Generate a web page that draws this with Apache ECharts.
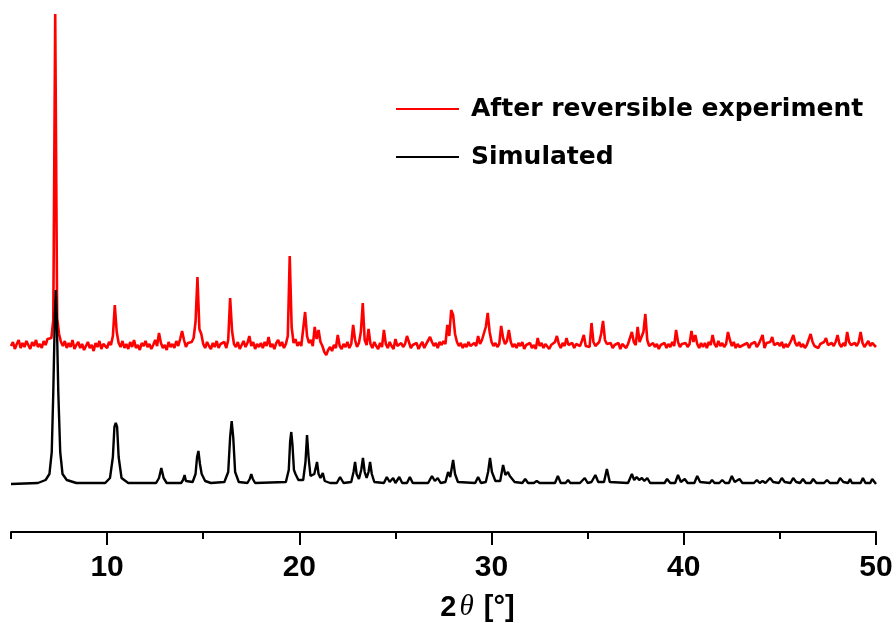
<!DOCTYPE html>
<html>
<head>
<meta charset="utf-8">
<script src="https://cdn.jsdelivr.net/npm/echarts@6/dist/echarts.min.js"></script>
<style>
html,body{margin:0;padding:0;background:#fff;}
#chart{width:896px;height:623px;}
</style>
</head>
<body>
<div id="chart"></div>
<script>
// ---- data ----
const seriesNames = ['After reversible experiment', 'Simulated'];
const majorTicks = [10, 20, 30, 40, 50];
const minorTicks = [5, 15, 25, 35, 45];
const angleStart = 5;      // 2theta of first experimental sample
const angleStep = 0.1;     // sampling step of the experimental scan

// experimental pattern (offset upward), one row per degree 5..49, then 50
const experimentIntensity = [
186,190,183,188,192,184,189,185,191,187,
183,190,186,192,185,188,184,191,187,193,
191,194,212,518,214,198,190,186,191,184,
189,185,192,183,187,190,184,188,182,186,
190,184,187,181,189,185,191,183,188,186,
184,190,187,196,227,200,189,185,191,184,
188,183,190,185,192,184,187,182,189,186,
191,185,188,183,187,192,186,199,189,184,
187,182,190,185,188,184,191,186,193,201,
192,185,189,187,190,194,210,255,203,198,
188,184,190,186,183,189,185,191,184,188,
186,190,184,192,234,201,188,185,190,183,
187,191,185,189,196,186,190,183,188,185,
189,184,190,186,195,185,188,183,189,192,
186,190,184,188,196,276,205,189,193,186,
190,186,203,220,196,189,192,186,205,193,
202,190,186,180,177,182,185,181,187,184,
197,186,183,188,185,190,184,188,207,192,
185,189,200,229,192,187,203,188,184,190,
186,183,189,185,202,188,184,190,186,183,
193,186,184,189,185,188,196,190,184,187,
185,189,183,187,190,184,188,186,195,190,
186,189,184,190,187,191,188,207,196,222,
217,198,190,186,189,184,188,185,190,186,
184,189,186,196,188,192,190,205,219,200,
190,186,189,185,188,206,194,188,191,202,
190,185,188,184,189,186,190,183,187,185,
189,184,187,183,194,186,189,184,188,186,
183,187,185,190,196,188,184,189,186,194,
187,185,189,184,188,190,186,191,197,186,
188,185,209,190,186,187,190,198,211,192,
188,186,189,184,187,185,189,183,188,186,
184,188,186,200,190,187,205,190,189,200,
218,192,186,184,189,185,188,183,187,186,
189,184,188,185,190,186,202,190,185,188,
186,189,185,188,201,190,197,188,184,189,
185,189,184,190,187,197,188,185,191,186,
189,185,188,200,192,186,190,184,188,185,
183,187,185,189,184,188,186,190,185,188,
186,197,184,189,188,190,195,187,185,189,
186,190,184,188,185,188,192,197,189,186,
190,185,188,184,187,189,198,190,186,188,
184,188,186,190,194,187,185,189,186,190,
197,188,185,189,186,200,190,187,185,189,
186,190,200,189,185,188,191,186,189,187,
185
];

// simulated pattern as [2theta, intensity] vertices
const simulatedPattern = [
[5,48],[6.4,49],[6.8,52],[7.0,58],[7.12,80],[7.2,140],[7.28,215],[7.33,242],[7.38,215],[7.46,140],[7.56,80],[7.68,58],[7.9,52],[8.4,49],
[9.9,49],[10.15,54],[10.3,75],[10.38,105],[10.45,109],[10.52,105],[10.6,75],[10.75,54],[11.1,49],
[12.55,49],[12.7,54],[12.82,64],[12.94,54],[13.1,49],
[13.85,49],[13.95,52],[14.03,57],[14.1,51],
[14.45,50],[14.6,58],[14.68,75],[14.75,81],[14.83,68],[14.92,58],[14.98,57],[15.1,51],[15.4,49],
[16.1,50],[16.3,60],[16.4,95],[16.48,111],[16.56,95],[16.66,60],[16.85,50],
[17.3,49],[17.42,53],[17.5,58],[17.58,53],[17.7,49],
[19.3,50],[19.45,62],[19.52,90],[19.58,100],[19.64,88],[19.72,62],[19.8,58],[19.87,59],[19.95,52],
[20.2,52],[20.32,70],[20.4,97],[20.48,75],[20.58,56],
[20.78,58],[20.92,70],[21.0,58],[21.1,54],[21.22,59],[21.32,51],[21.6,49],
[21.95,49],[22.12,55],[22.3,49],
[22.7,50],[22.82,60],[22.9,70],[22.98,58],[23.1,53],
[23.22,62],[23.31,74],[23.4,60],[23.5,54],
[23.6,60],[23.68,70],[23.77,58],[23.9,50],
[24.4,49],[24.55,55],[24.7,50],[24.88,54],[25.0,49],[25.2,55],[25.35,49],[25.6,49],[25.75,55],[25.9,49],
[26.7,49],[26.9,56],[27.05,51],[27.2,54],[27.35,49],
[27.6,50],[27.74,60],[27.85,55],[28.0,72],[28.1,58],[28.25,50],
[29.15,49],[29.3,55],[29.45,49],
[29.7,50],[29.82,60],[29.92,74],[30.02,60],[30.2,51],
[30.45,51],[30.6,67],[30.72,57],[30.85,60],[30.95,56],[31.05,58],[31.2,50],
[31.6,49],[31.75,53],[31.9,49],
[32.2,49],[32.35,51],[32.5,49],[32.6,51],[32.75,49],
[33.3,49],[33.45,56],[33.6,49],
[33.85,49],[33.98,52],[34.1,49],
[34.6,49],[34.85,54],[35.0,49],
[35.2,50],[35.4,57],[35.55,50],
[35.85,50],[36.0,63],[36.15,50],
[37.1,49],[37.3,58],[37.42,52],[37.55,55],[37.68,52],[37.82,54],[37.95,51],[38.1,54],[38.25,49],
[39.0,49],[39.13,53],[39.3,49],
[39.55,49],[39.7,57],[39.85,50],[40.05,53],[40.2,49],
[40.55,49],[40.7,56],[40.85,50],
[41.35,49],[41.47,52],[41.6,49],
[41.85,49],[42.0,52],[42.15,49],
[42.35,49],[42.5,56],[42.65,50],[42.9,53],[43.05,49],
[43.65,49],[43.8,52],[43.95,49],[44.1,51],[44.25,49],
[44.35,50],[44.49,54],[44.65,50],
[44.95,49],[45.1,54],[45.25,50],
[45.55,49],[45.69,54],[45.85,50],
[46.05,49],[46.2,53],[46.35,49],
[46.6,49],[46.73,53],[46.9,49],
[47.3,49],[47.45,52],[47.6,49],
[48.0,49],[48.13,54],[48.3,50],
[48.55,49],[48.65,53],[48.75,49],
[49.2,49],[49.32,54],[49.45,49],
[49.7,49],[49.8,53],[50,48]
];

// ---- build chart ----
const experimentData = experimentIntensity.map((v, i) => [+(angleStart + i * angleStep).toFixed(2), v]);

const chart = echarts.init(document.getElementById('chart'), null, {renderer: 'canvas'});
const labelFont = {fontFamily: '"Liberation Sans", Arial, sans-serif', fontWeight: 'bold', color: '#000'};

chart.setOption({
  backgroundColor: '#ffffff',
  animation: false,
  grid: {left: 11, right: 20, top: 10, bottom: 91, containLabel: false, outerBoundsMode: 'none'},
  legend: {
    orient: 'vertical',
    left: 396,
    top: 96,
    padding: 0,
    icon: 'rect',
    itemWidth: 63,
    itemHeight: 2,
    itemGap: 22,
    data: seriesNames,
    textStyle: {fontFamily: '"DejaVu Sans", sans-serif', fontWeight: 'bold', fontSize: 25, lineHeight: 26, color: '#000', padding: [0, 0, 0, 7]}
  },
  xAxis: [{
    type: 'value',
    min: 5,
    max: 50,
    interval: 5,
    axisLine: {show: true, lineStyle: {color: '#000', width: 2}},
    axisTick: {show: true, inside: false, length: 13, customValues: majorTicks, lineStyle: {color: '#000', width: 2}},
    axisLabel: Object.assign({show: true, fontSize: 30, margin: 21, customValues: majorTicks}, labelFont),
    splitLine: {show: false},
    name: '{b|2}{i|θ}{b| [°]}',
    nameLocation: 'middle',
    nameGap: 61,
    nameTextStyle: {
      padding: [0, 0, 0, 68],
      rich: {
        b: {fontFamily: '"Liberation Sans", Arial, sans-serif', fontWeight: 'bold', fontSize: 29, color: '#000'},
        i: {fontFamily: '"Liberation Serif", serif', fontStyle: 'italic', fontSize: 29, color: '#000', padding: [0, 2, 0, 3]}
      }
    }
  }, {
    type: 'value',
    min: 5,
    max: 50,
    interval: 5,
    position: 'bottom',
    axisLine: {show: false},
    axisTick: {show: true, inside: false, length: 7, customValues: minorTicks, lineStyle: {color: '#000', width: 2}},
    axisLabel: {show: false},
    splitLine: {show: false}
  }],
  yAxis: {type: 'value', min: 0, max: 522, show: false, splitLine: {show: false}},
  series: [{
    name: seriesNames[0],
    type: 'line',
    xAxisIndex: 0,
    data: experimentData,
    symbol: 'none',
    showSymbol: false,
    color: '#ff0000',
    lineStyle: {color: '#ff0000', width: 2.6},
    z: 2
  }, {
    name: seriesNames[1],
    type: 'line',
    xAxisIndex: 0,
    data: simulatedPattern,
    symbol: 'none',
    showSymbol: false,
    color: '#000000',
    lineStyle: {color: '#000000', width: 2.4},
    z: 3
  }]
});
</script>
</body>
</html>
